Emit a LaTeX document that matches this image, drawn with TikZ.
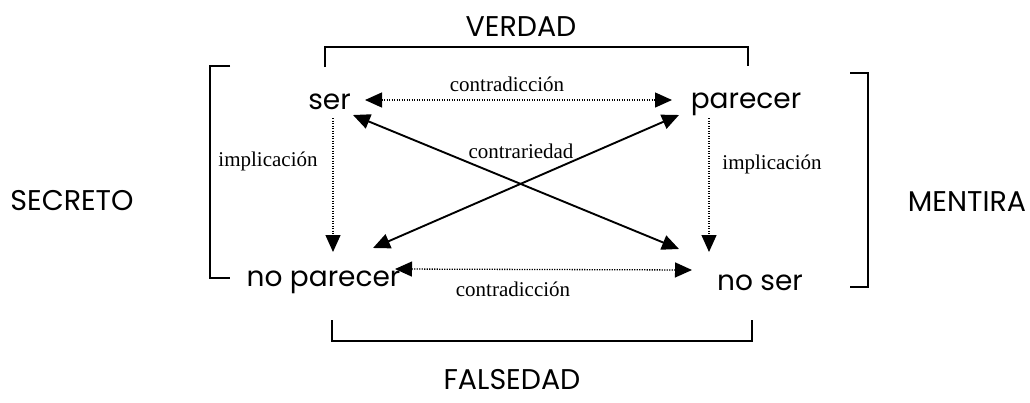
\documentclass[tikz,border=0pt]{standalone}
\usepackage{fontspec}
\setmainfont{Liberation Serif}
\newfontfamily\geo{Poppins}
\usetikzlibrary{arrows.meta}
\begin{document}
\begin{tikzpicture}[x=1pt,y=-1pt,
  term/.style={font=\geo\fontsize{28}{32}\selectfont, inner sep=0pt, anchor=base},
  big/.style={font=\geo\fontsize{28.5}{32}\selectfont, inner sep=0pt, anchor=base},
  lab/.style={font=\fontsize{21}{24}\selectfont, inner sep=0pt, anchor=base},
  bracket/.style={line width=1.7pt},
  tip/.tip={Triangle[length=17pt,width=15pt]},
  solidarr/.style={line width=1.9pt, tip-tip},
  dotarr/.style={line width=1.3pt, dash pattern=on 1.1pt off 1.4pt}]
\useasboundingbox (0,0) rectangle (1030,402);
% terms
\node[term] (ser) at (329.5,109) {ser};
\node[term] (par) at (746,108) {parecer};
\node[term] (nopar) at (323.5,286) {no parecer};
\node[term] (noser) at (760,290) {no ser};
% categories
\node[big] (verdad) at (521,36) {VERDAD};
\node[big] (falsedad) at (512,389) {FALSEDAD};
\node[big] (secreto) at (72,210) {SECRETO};
\node[big] (mentira) at (967,211) {MENTIRA};
% relation labels
\node[lab] (ctop) at (507,91) {contradicción};
\node[lab] (cbot) at (513,296) {contradicción};
\node[lab] (contr) at (521,158) {contrariedad};
\node[lab] (impl) at (268,166) {implicación};
\node[lab] (impr) at (772,169) {implicación};
% arrow end points
\coordinate (serR) at (365,100);
\coordinate (parL) at (672,100);
\coordinate (serD) at (333,118);
\coordinate (nparU) at (333,252);
\coordinate (parD) at (709,118);
\coordinate (nserU) at (709,252);
\coordinate (serX) at (353,115);
\coordinate (nserX) at (679,249);
\coordinate (parX) at (679,115);
\coordinate (nparX) at (373,248);
\coordinate (nparR) at (395,269);
\coordinate (nserL) at (692,270);
% connectors
\draw[dotarr, tip-tip] (serR) -- (parL);
\draw[dotarr, tip-tip] (nparR) -- (nserL);
\draw[dotarr, -tip] (serD) -- (nparU);
\draw[dotarr, -tip] (parD) -- (nserU);
\draw[solidarr] (serX) -- (nserX);
\draw[solidarr] (parX) -- (nparX);
% brackets
\draw[bracket] (325,67) -- (325,47) -- (748,47) -- (748,66);
\draw[bracket] (332,320) -- (332,341) -- (752,341) -- (752,320);
\draw[bracket] (230,66) -- (210,66) -- (210,278) -- (230,278);
\draw[bracket] (850,73) -- (868,73) -- (868,287) -- (850,287);
\end{tikzpicture}
\end{document}
